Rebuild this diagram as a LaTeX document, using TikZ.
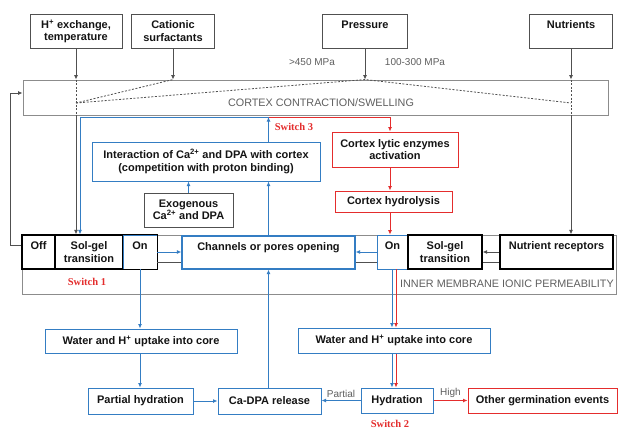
\documentclass[tikz,border=0pt]{standalone}
\usepackage{fontspec}
\setmainfont{Liberation Sans}
\newfontfamily\swfont{Liberation Serif}
\usetikzlibrary{arrows.meta}
\definecolor{bl}{RGB}{52,125,195}
\definecolor{rd}{RGB}{228,45,45}
\definecolor{gr}{RGB}{80,80,80}
\definecolor{lg}{RGB}{140,140,140}
\definecolor{tx}{RGB}{20,20,20}
\definecolor{nt}{RGB}{95,95,95}
\begin{document}
\begin{tikzpicture}[x=1pt,y=-1pt,
  >={Latex[length=4.5pt,width=4pt]},
  box/.style={draw=gr, line width=0.9pt, fill=white, inner sep=1pt, align=center, text=tx,
    font=\bfseries\fontsize{11}{12.2}\selectfont},
  bbox/.style={box, draw=bl, line width=1pt},
  rbox/.style={box, draw=rd, line width=1pt},
  kbox/.style={box, draw=black, line width=1.1pt},
  garr/.style={draw=gr, line width=0.9pt, ->},
  gline/.style={draw=gr, line width=0.9pt},
  barr/.style={draw=bl, line width=1pt, ->},
  rarr/.style={draw=rd, line width=1pt, ->},
  dots/.style={draw=gr, dash pattern=on 2pt off 1.6pt, line width=0.8pt},
  sw/.style={text=rd, font=\swfont\bfseries\fontsize{10.5}{12}\selectfont},
  note/.style={text=nt, font=\fontsize{10.8}{12}\selectfont, inner sep=0pt},
  small/.style={text=nt, font=\fontsize{10}{12}\selectfont, inner sep=0pt}]
\useasboundingbox[fill=white] (0,0) rectangle (621,429);

% top inputs
\node[box, minimum width=92pt, minimum height=34pt] (h) at (76,31) {H\textsuperscript{+} exchange,\\temperature};
\node[box, minimum width=83pt, minimum height=34pt] (cat) at (173,31) {Cationic\\surfactants};
\node[box, minimum width=85pt, minimum height=34pt] (pres) at (365,31) {Pressure\\\phantom{x}};
\node[box, minimum width=83pt, minimum height=34pt] (nutr) at (571,31) {Nutrients\\\phantom{x}};
\node[small] (mpa1) at (312,62) {>450 MPa};
\node[small] (mpa2) at (415,62) {100-300 MPa};

% cortex box
\node[draw=lg, line width=0.9pt, minimum width=585pt, minimum height=35pt, inner sep=0pt] (cortex) at (315.5,97.5) {};
\node[note] (cortexlbl) at (321,103) {CORTEX CONTRACTION/SWELLING};

% membrane region
\node[draw=lg, line width=1pt, minimum width=594pt, minimum height=59pt, inner sep=0pt] (membrane) at (319,264.5) {};
\node[note, anchor=east] (memlbl) at (614,284) {INNER MEMBRANE IONIC PERMEABILITY};

% middle boxes
\node[bbox, minimum width=228pt, minimum height=39pt] (inter) at (206,161.5) {Interaction of Ca\textsuperscript{2+} and DPA with cortex\\(competition with proton binding)};
\node[box, minimum width=89pt, minimum height=34pt] (exo) at (188.5,210) {Exogenous\\Ca\textsuperscript{2+} and DPA};
\node[rbox, minimum width=126pt, minimum height=35pt] (lytic) at (395,149.5) {Cortex lytic enzymes\\activation};
\node[rbox, minimum width=117pt, minimum height=21pt] (hydro) at (393.5,201.5) {Cortex hydrolysis};

% switch 1
\node[kbox, minimum width=33pt, minimum height=34pt] (off) at (38.5,252) {Off\\\phantom{x}};
\node[kbox, minimum width=68pt, minimum height=34pt] (solgel1) at (89,252) {Sol-gel\\transition};
\node[box, draw=bl, line width=0.8pt, minimum width=34pt, minimum height=34pt] (on1) at (140,252) {On\\\phantom{x}};
\draw[black, line width=1.1pt] (off.north west) rectangle (on1.south east);

\node[bbox, line width=1.3pt, minimum width=173pt, minimum height=33pt] (chan) at (268.5,252.5) {Channels or pores opening\\\phantom{x}};

% switch right
\node[box, draw=bl, line width=0.8pt, minimum width=31pt, minimum height=34pt] (on2) at (392.5,252) {On\\\phantom{x}};
\node[kbox, minimum width=74pt, minimum height=34pt] (solgel2) at (445,252) {Sol-gel\\transition};
\node[kbox, minimum width=113pt, minimum height=34pt] (nrec) at (556.5,252) {Nutrient receptors\\\phantom{x}};

% lower boxes
\node[bbox, minimum width=192pt, minimum height=24pt] (lwater) at (141,341) {Water and H\textsuperscript{+} uptake into core};
\node[bbox, minimum width=192pt, minimum height=25pt] (rwater) at (394,340.5) {Water and H\textsuperscript{+} uptake into core};
\node[bbox, minimum width=105pt, minimum height=26pt] (parthyd) at (140.5,401) {Partial hydration};
\node[bbox, minimum width=103pt, minimum height=26pt] (cadpa) at (269.5,401) {Ca-DPA release};
\node[bbox, minimum width=72pt, minimum height=25pt] (hyd) at (397,400.5) {Hydration};
\node[rbox, minimum width=149pt, minimum height=25pt] (other) at (542.5,400.5) {Other germination events};

% switch labels
\node[sw] (sw1) at (87,282) {Switch 1};
\node[sw] (sw2) at (390,424) {Switch 2};
\node[sw] (sw3) at (294,127) {Switch 3};

% coordinates
\coordinate (dl) at (76,103);
\coordinate (dr) at (571,103);
\coordinate (s3) at (268.5,117);
\coordinate (r3) at (390,117);
\coordinate (b1) at (80,117);
\coordinate (fb) at (10,245);
\coordinate (fb2) at (10,93);

% top arrows
\draw[garr] (h.south) -- (h.south |- cortex.north);
\draw[dots] (h.south |- cortex.north) -- (h.south |- cortex.south);
\draw[garr] (h.south |- cortex.south) -- (h.south |- solgel1.north);
\draw[garr] (cat.south) -- (cat.south |- cortex.north);
\draw[garr] (pres.south) -- (pres.south |- cortex.north);
\draw[garr] (nutr.south) -- (nutr.south |- cortex.north);
\draw[dots] (nutr.south |- cortex.north) -- (nutr.south |- cortex.south);
\draw[garr] (nutr.south |- cortex.south) -- (nutr.south |- nrec.north);
\draw[dots] (dl) -- (cat.south |- cortex.north);
\draw[dots] (dl) -- (pres.south |- cortex.north) -- (dr);

% feedback from switch 1 to cortex
\draw[garr] (off.west |- fb) -- (fb) -- (fb2) -- (fb2 -| cortex.west);

% switch 3
\draw[barr] (s3 |- inter.north) -- (s3);
\draw[barr] (s3) -- (b1) -- (b1 |- solgel1.north);
\draw[rarr] (s3) -- (r3) -- (r3 |- lytic.north);
\draw[rarr] (r3 |- lytic.south) -- (r3 |- hydro.north);
\draw[rarr] (r3 |- hydro.south) -- (r3 |- on2.north);

% interaction inputs
\draw[barr] (exo.north) -- (exo.north |- inter.south);
\draw[barr] (chan.north) -- (chan.north |- inter.south);

% switch connections
\draw[barr] (on1.east) -- (on1.east -| chan.west);
\draw[gline] ([yshift=-10pt]on1.east) -- ([yshift=-10pt]on1.east -| chan.west);
\draw[barr] (on2.west) -- (on2.west -| chan.east);
\draw[gline] ([yshift=-10pt]on2.west) -- ([yshift=-10pt]on2.west -| chan.east);
\draw[garr] (nrec.west) -- (nrec.west -| solgel2.east);
\draw[gline] ([yshift=-10pt]nrec.west) -- ([yshift=-10pt]nrec.west -| solgel2.east);

% left chain
\draw[barr] (on1.south) -- (on1.south |- lwater.north);
\draw[barr] (on1.south |- lwater.south) -- (on1.south |- parthyd.north);
\draw[barr] (parthyd.east) -- (cadpa.west);
\draw[barr] (chan.south |- cadpa.north) -- (chan.south);

% right chain
\draw[barr] ([xshift=-0.5pt]on2.south) -- ([xshift=-0.5pt]on2.south |- rwater.north);
\draw[rarr] ([xshift=3.5pt]on2.south) -- ([xshift=3.5pt]on2.south |- rwater.north);
\draw[barr] ([xshift=-0.5pt]on2.south |- rwater.south) -- ([xshift=-0.5pt]on2.south |- hyd.north);
\draw[rarr] ([xshift=3.5pt]on2.south |- rwater.south) -- ([xshift=3.5pt]on2.south |- hyd.north);

\draw[barr] (hyd.west) -- (hyd.west -| cadpa.east) node[small, midway, above=2pt] (lpart) {Partial};
\draw[rarr] (hyd.east) -- (hyd.east -| other.west) node[small, midway, above=2pt] (lhigh) {High};
\end{tikzpicture}
\end{document}
